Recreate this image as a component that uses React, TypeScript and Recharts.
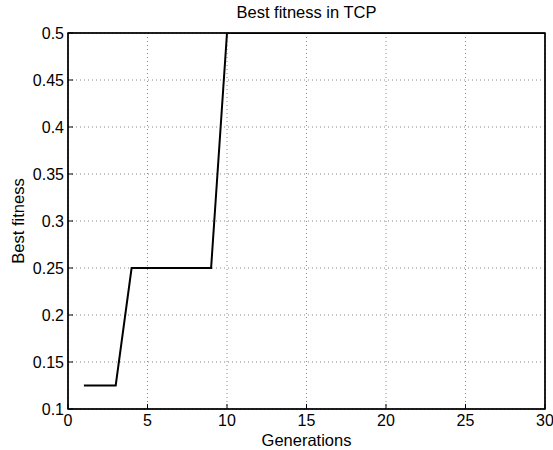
import { CartesianGrid, Label, Line, LineChart, ReferenceArea, XAxis, YAxis } from 'recharts';

const generations = [
  1, 2, 3, 4, 5, 6, 7, 8, 9, 10, 11, 12, 13, 14, 15, 16, 17, 18, 19, 20, 21, 22, 23, 24, 25, 26, 27, 28, 29, 30,
];
const bestFitness = [
  0.125, 0.125, 0.125, 0.25, 0.25, 0.25, 0.25, 0.25, 0.25, 0.5, 0.5, 0.5, 0.5, 0.5, 0.5, 0.5, 0.5, 0.5, 0.5, 0.5,
  0.5, 0.5, 0.5, 0.5, 0.5, 0.5, 0.5, 0.5, 0.5, 0.5,
];
const xTicks = [0, 5, 10, 15, 20, 25, 30];
const yTicks = [0.1, 0.15, 0.2, 0.25, 0.3, 0.35, 0.4, 0.45, 0.5];

const data = generations.map((g, i) => ({ gen: g, fitness: bestFitness[i] }));

const FONT = 'Liberation Sans, Arial, Helvetica, sans-serif';
const labelStyle = { fill: '#000', fontSize: 16.5, fontFamily: FONT };

const XTick = (props: any) => (
  <text x={props.x} y={props.y} dy="0.71em" textAnchor="middle" fill="#000" fontSize={16} fontFamily={FONT}>
    {props.payload.value}
  </text>
);

const YTick = (props: any) => (
  <text x={props.x} y={props.y} dy="0.355em" textAnchor="end" fill="#000" fontSize={16} fontFamily={FONT}>
    {props.payload.value}
  </text>
);

export default function App() {
  return (
    <div style={{ position: 'absolute', left: 0, top: 0, width: 553, height: 450, background: '#fff' }}>
      <div
        style={{
          position: 'absolute',
          left: 68,
          width: 477,
          top: 3,
          textAlign: 'center',
          fontFamily: FONT,
          fontSize: 16.5,
          color: '#000',
          whiteSpace: 'nowrap',
        }}
      >
        Best fitness in TCP
      </div>
      <LineChart width={553} height={450} data={data} margin={{ top: 33, right: 8, bottom: 11, left: 0 }}>
        <CartesianGrid stroke="#888" strokeDasharray="1 3" horizontalValues={yTicks} verticalValues={xTicks} />
        <XAxis
          dataKey="gen"
          type="number"
          domain={[0, 30]}
          ticks={xTicks}
          height={30}
          stroke="#000"
          tickSize={-5}
          tickMargin={11}
          tick={<XTick />}
          axisLine={{ stroke: '#000', strokeWidth: 1 }}
          tickLine={{ stroke: '#000' }}
        >
          <Label value="Generations" position="insideBottom" offset={-7} style={labelStyle} />
        </XAxis>
        <XAxis
          xAxisId="top"
          orientation="top"
          dataKey="gen"
          type="number"
          domain={[0, 30]}
          ticks={xTicks}
          mirror
          tick={false}
          tickSize={5}
          stroke="#000"
          height={30}
        />
        <YAxis
          type="number"
          domain={[0.1, 0.5]}
          ticks={yTicks}
          width={68}
          stroke="#000"
          tickSize={-5}
          tickMargin={9}
          tick={<YTick />}
          allowDataOverflow
        >
          <Label value="Best fitness" angle={-90} position="insideLeft" offset={18} style={{ ...labelStyle, textAnchor: 'middle' }} />
        </YAxis>
        <YAxis
          yAxisId="right"
          orientation="right"
          type="number"
          domain={[0.1, 0.5]}
          ticks={yTicks}
          mirror
          tick={false}
          tickSize={5}
          stroke="#000"
          width={30}
        />
        <ReferenceArea x1={0} x2={30} y1={0.1} y2={0.5} fill="none" stroke="#000" strokeWidth={1.5} ifOverflow="visible" />
        <Line
          type="linear"
          dataKey="fitness"
          stroke="#000"
          strokeWidth={2}
          dot={false}
          isAnimationActive={false}
        />
      </LineChart>
    </div>
  );
}
